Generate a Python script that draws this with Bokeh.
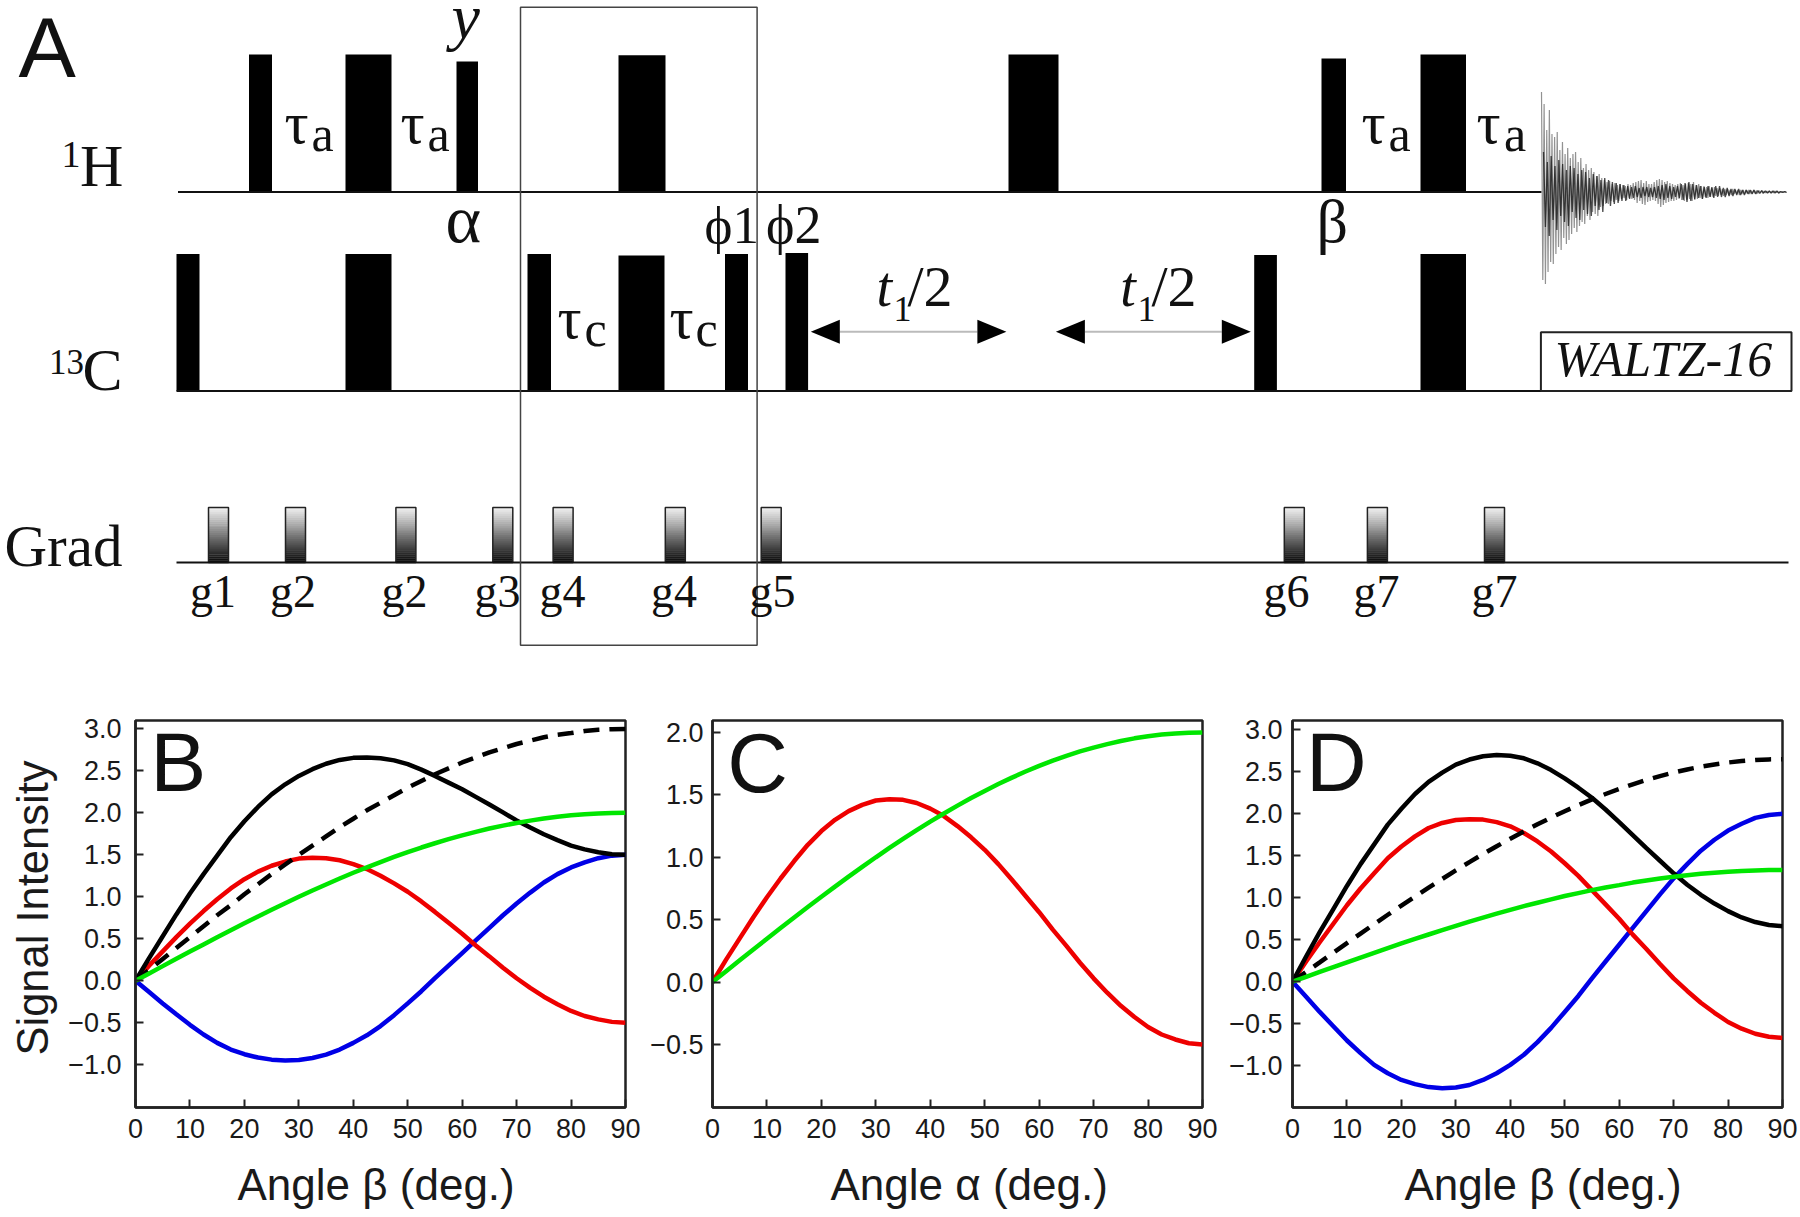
from bokeh.plotting import figure
from bokeh.layouts import column, row
from bokeh.models import FixedTicker, Range1d, Title
from bokeh.core.properties import value
from bokeh.embed import file_html
from bokeh.resources import INLINE

# ---------- schematic (panel A) ----------
h_pulse_start = [248.5, 345, 456, 618, 1008, 1321, 1420]
h_pulse_end = [271.5, 391, 477.5, 665, 1058, 1345.5, 1465.5]
h_pulse_top = [54, 54, 61, 54.7, 54, 58, 54]
c_pulse_start = [176, 345, 527, 618, 724.5, 785, 1253.7, 1420]
c_pulse_end = [199, 391, 550.5, 664, 747.5, 807.6, 1276.4, 1465.5]
c_pulse_top = [253.4, 253.4, 253.4, 255, 253.4, 252.5, 254.6, 253.4]
grad_start = [208, 285, 395.4, 492.3, 552.6, 664.8, 760.7, 1283.8, 1366.9, 1484]
grad_labels = ["g1", "g2", "g2", "g3", "g4", "g4", "g5", "g6", "g7", "g7"]
grad_label_x = [189.5, 269.5, 381, 474, 539, 650.5, 749, 1263, 1353, 1471]
fid_signal = [
    100, -88, 88, -92, 62, -80, 82, -70, 58, -72, 55, -62, 60, -55,
    42, -58, 50, -46, 38, -52, 44, -48, 34, -42, 38, -36, 40, -40, 30, -34,
    34, -30, 24, -32, 28, -24, 22, -28, 24, -20, 20, -22, 16, -24, 18, -15,
    14, -14, 12, -12, 10, -12, 11, -9, 8, -10, 9, -8, 7, -9, 8, -7, 7, -6, 6, -8, 8, -6, 7, -7,
    9, -8, 10, -11, 11, -9, 12, -12, 9, -13, 11, -10, 8, -9, 8, -8,
    10, -9, 12, -12, 13, -15, 12, -13, 10, -11, 11, -10, 9, -9, 8, -9,
    7, -8, 8, -7, 9, -8, 7, -9, 8, -8, 9, -7, 8, -9, 10, -8, 7, -7, 8, -6, 6, -7, 6, -5,
    5, -6, 6, -5, 4, -5, 5, -4, 4, -4, 4, -3, 3, -4, 3, -3, 3, -3, 2, -3, 3, -2, 2, -2, 2, -3, 2, -2, 2, -2,
    2, -1.5, 2, -2, 1.5, -1.5, 2, -1.5, 1.5, -1.5, 1.5, -1, 1, -1.5, 1, -1, 1, -1, 1, -1, 1, -1, 1, -0.5, 0.5, -1, 0.5, -0.5, 0.5, -0.5, 0.5, -0.5,
]
fid_core = [
    40, -35, 30, -44, 36, -28, 26, -38, 32, -24, 28, -30, 22, -34, 26, -20, 24, -26, 18, -28, 22, -18, 20, -22, 14, -24,
    18, -14, 16, -18, 12, -20, 14, -11, 12, -14, 10, -12, 9, -11, 8, -9, 7, -9, 6, -7, 5, -6, 6, -5, 4, -6, 5, -4, 5, -5,
    4, -5, 5, -6, 6, -7, 7, -8, 8, -6, 6, -7, 5, -5, 6, -6, 8, -8, 9, -10, 10, -9, 8, -7, 7, -6, 6, -7, 5, -6, 6, -5, 5, -6,
    6, -5, 6, -5, 4, -5, 4, -4, 3, -4, 3, -3, 3, -3, 2, -3, 2, -2, 2, -2, 2, -2, 1.5, -1.5, 1.5, -1, 1, -1, 1, -1, 1, -1, 1, -1,
    0.5, -0.5, 0.5, -0.5,
]
t1_arrow_left = [810.3, 1055.4]
t1_arrow_right = [1005.9, 1250.3]

# ---------- curves (panels B, C, D), read every 2.5 degrees ----------
angle = [0, 2.5, 5, 7.5, 10, 12.5, 15, 17.5, 20, 22.5, 25, 27.5, 30, 32.5, 35, 37.5, 40, 42.5, 45,
         47.5, 50, 52.5, 55, 57.5, 60, 62.5, 65, 67.5, 70, 72.5, 75, 77.5, 80, 82.5, 85, 87.5, 90]
b_black = [0, .27, .53, .79, 1.04, 1.27, 1.49, 1.71, 1.90, 2.07, 2.22, 2.34, 2.44, 2.52, 2.585, 2.63, 2.655, 2.66, 2.65,
           2.625, 2.58, 2.515, 2.44, 2.36, 2.28, 2.19, 2.10, 2.005, 1.91, 1.825, 1.745, 1.675, 1.61, 1.565, 1.53, 1.507, 1.5]
b_dashed = [0, .13, .26, .39, .52, .65, .78, .90, 1.03, 1.15, 1.27, 1.385, 1.5, 1.61, 1.72, 1.83, 1.93, 2.03, 2.12,
            2.21, 2.30, 2.38, 2.46, 2.53, 2.60, 2.66, 2.72, 2.77, 2.82, 2.86, 2.90, 2.93, 2.95, 2.975, 2.99, 2.997, 3.0]
b_green = [0, .087, .174, .261, .347, .433, .518, .601, .684, .765, .845, .923, 1.0, 1.075, 1.147, 1.218, 1.286, 1.351, 1.414,
           1.475, 1.532, 1.587, 1.638, 1.687, 1.732, 1.774, 1.813, 1.848, 1.879, 1.907, 1.932, 1.953, 1.970, 1.983, 1.992, 1.998, 2.0]
b_red = [0, .18, .35, .52, .68, .83, .97, 1.10, 1.21, 1.30, 1.37, 1.42, 1.455, 1.465, 1.46, 1.435, 1.39, 1.33, 1.25,
         1.16, 1.06, .945, .82, .69, .56, .42, .29, .155, .03, -.085, -.19, -.28, -.36, -.42, -.46, -.49, -.5]
b_blue = [0, -.135, -.27, -.40, -.525, -.64, -.74, -.82, -.875, -.915, -.94, -.95, -.945, -.92, -.88, -.82, -.74, -.65, -.54,
          -.41, -.27, -.125, .03, .18, .33, .48, .63, .78, .92, 1.05, 1.17, 1.27, 1.35, 1.41, 1.46, 1.49, 1.5]
c_green = [0, .087, .174, .261, .347, .433, .518, .601, .684, .765, .845, .923, 1.0, 1.075, 1.147, 1.218, 1.286, 1.351, 1.414,
           1.475, 1.532, 1.587, 1.638, 1.687, 1.732, 1.774, 1.813, 1.848, 1.879, 1.907, 1.932, 1.953, 1.970, 1.983, 1.992, 1.998, 2.0]
c_red = [0, .18, .35, .52, .68, .83, .97, 1.10, 1.21, 1.30, 1.37, 1.42, 1.455, 1.465, 1.46, 1.435, 1.39, 1.33, 1.25,
         1.16, 1.06, .945, .82, .69, .56, .42, .29, .155, .03, -.085, -.19, -.28, -.36, -.42, -.46, -.49, -.5]
d_black = [0, .30, .59, .865, 1.14, 1.40, 1.635, 1.87, 2.06, 2.235, 2.38, 2.49, 2.585, 2.645, 2.685, 2.70, 2.69, 2.66, 2.60,
           2.52, 2.42, 2.31, 2.19, 2.05, 1.90, 1.745, 1.59, 1.44, 1.29, 1.155, 1.035, .93, .84, .765, .71, .675, .66]
d_dashed = [0, .115, .23, .346, .46, .573, .686, .797, .906, 1.014, 1.12, 1.223, 1.325, 1.424, 1.52, 1.613, 1.703, 1.79, 1.874,
            1.954, 2.03, 2.102, 2.171, 2.235, 2.295, 2.35, 2.402, 2.448, 2.49, 2.527, 2.56, 2.587, 2.61, 2.627, 2.64, 2.647, 2.65]
d_green = [0, .058, .116, .174, .231, .288, .344, .40, .455, .509, .562, .614, .665, .715, .763, .81, .855, .899, .94,
           .98, 1.02, 1.055, 1.09, 1.122, 1.15, 1.18, 1.205, 1.229, 1.25, 1.268, 1.285, 1.298, 1.31, 1.319, 1.325, 1.329, 1.33]
d_red = [0, .24, .47, .69, .91, 1.11, 1.29, 1.47, 1.61, 1.73, 1.83, 1.89, 1.925, 1.935, 1.93, 1.90, 1.85, 1.77, 1.67,
         1.55, 1.41, 1.26, 1.09, .92, .75, .56, .39, .21, .04, -.11, -.25, -.37, -.48, -.56, -.62, -.655, -.67]
d_blue = [0, -.18, -.36, -.53, -.70, -.85, -.99, -1.09, -1.17, -1.22, -1.255, -1.27, -1.26, -1.23, -1.17, -1.09, -.99, -.87, -.72,
          -.55, -.36, -.17, .04, .24, .44, .64, .84, 1.04, 1.23, 1.40, 1.56, 1.69, 1.80, 1.88, 1.95, 1.985, 2.0]
x_ticks = [0, 10, 20, 30, 40, 50, 60, 70, 80, 90]
yb_ticks = [-1.0, -0.5, 0.0, 0.5, 1.0, 1.5, 2.0, 2.5, 3.0]
yc_ticks = [-0.5, 0.0, 0.5, 1.0, 1.5, 2.0]

SERIF = "Liberation Serif"
SANS = "Liberation Sans"
H_BASE, C_BASE, G_BASE = 191.5, 390.6, 561.9
G_TOP, G_W = 507, 20
BASE_SHIFT = 0.37  # the page draws "alphabetic" text this fraction of its size low

top = figure(width=1800, height=700, x_range=Range1d(0, 1800), y_range=Range1d(700, 0),
             toolbar_location=None, output_backend="svg", min_border=0)
top.axis.visible = False
top.grid.visible = False
top.outline_line_color = None


def txt(x, y, s, size, font=SERIF, style="normal", color="#111111"):
    top.text(x=[x], y=[y - BASE_SHIFT * size], text=[s], text_font=value(font), text_font_size=value(f"{size}px"),
             text_font_style=style, text_color=color, text_baseline="alphabetic", text_align="left")


top.quad(left=h_pulse_start, right=h_pulse_end, top=h_pulse_top, bottom=[H_BASE] * len(h_pulse_top),
         fill_color="black", line_color=None)
top.quad(left=c_pulse_start, right=c_pulse_end, top=c_pulse_top, bottom=[C_BASE] * len(c_pulse_top),
         fill_color="black", line_color=None)
STEPS = 28
for g in grad_start:
    for i in range(STEPS):
        f = i / (STEPS - 1)
        lev = int(238 * (1 - f) + 10 * f)
        col = f"#{lev:02x}{lev:02x}{lev:02x}"
        h = (G_BASE - G_TOP) / STEPS
        top.quad(left=[g], right=[g + G_W], top=[G_TOP + i * h], bottom=[G_TOP + (i + 1) * h + .3],
                 fill_color=col, line_color=None)
    top.quad(left=[g], right=[g + G_W], top=[G_TOP], bottom=[G_BASE], fill_color=None,
             line_color="#222222", line_width=1.5)

top.line([177.5, 1541], [H_BASE, H_BASE], line_color="#111111", line_width=2)
top.line([176, 1791], [C_BASE, C_BASE], line_color="#111111", line_width=2)
top.line([176, 1788], [G_BASE, G_BASE], line_color="#111111", line_width=2)

fid_x = [1541 + i * 245 / (len(fid_signal) - 1) for i in range(len(fid_signal))]
fid_y = [H_BASE - v for v in fid_signal]
top.line(fid_x, fid_y, line_color="#777777", line_width=1.2, line_alpha=0.8)
core_x = [1543 + i * 243 / (len(fid_core) - 1) for i in range(len(fid_core))]
core_y = [H_BASE - v for v in fid_core]
top.line(core_x, core_y, line_color="#111111", line_width=1.3, line_alpha=0.75)

top.quad(left=[1540.4], right=[1791], top=[331.7], bottom=[C_BASE], fill_color="white",
         line_color="#222222", line_width=2)
top.quad(left=[520], right=[756.6], top=[6.7], bottom=[644.8], fill_color=None,
         line_color="#444444", line_width=1.5)

ARROW_Y, HEAD_L, HEAD_H = 331.2, 29, 12
for a, b in zip(t1_arrow_left, t1_arrow_right):
    top.line([a + HEAD_L, b - HEAD_L], [ARROW_Y, ARROW_Y], line_color="#bbbbbb", line_width=2)
    top.patches(xs=[[a, a + HEAD_L, a + HEAD_L], [b, b - HEAD_L, b - HEAD_L]],
                ys=[[ARROW_Y, ARROW_Y - HEAD_H, ARROW_Y + HEAD_H]] * 2, fill_color="black", line_color=None)

txt(18, 78, "A", 86, SANS)
txt(451, 40, "y", 64, SERIF, "italic")
txt(61, 168, "1", 38); txt(79.5, 187.3, "H", 60)
txt(48.5, 374, "13", 35); txt(82, 392, "C", 60)
txt(4, 567, "Grad", 59)
for xs, s, base in [((284, 311), "a", 152), ((400, 427), "a", 152), ((1361, 1388), "a", 152), ((1476, 1503.5), "a", 152),
                    ((557, 584), "c", 347), ((669, 695), "c", 347)]:
    txt(xs[0], base - 7, "τ", 60)
    txt(xs[1], base, s, 50)
txt(445, 244, "α", 68)
txt(1316, 243, "β", 62)
txt(704, 244, "ϕ1", 53)
txt(765.5, 244, "ϕ2", 54)
for tx, sx, rx in [(876, 893, 907), (1119.7, 1137, 1151)]:
    txt(tx, 307, "t", 56, SERIF, "italic")
    txt(sx, 322, "1", 36)
    txt(rx, 307, "/2", 58)
txt(1554, 377, "WALTZ-16", 50, SERIF, "italic")
for x, s in zip(grad_label_x, grad_labels):
    txt(x, 608, s, 46)


# ---------- panels ----------
def panel(width, left, right, y0, y1, yticks, xlabel, xlabel_offset, letter, lx, ly, std):
    p = figure(width=width, height=547, x_range=Range1d(0, 90), y_range=Range1d(y0, y1),
               toolbar_location=None, output_backend="svg",
               min_border_left=left, min_border_right=right, min_border_top=20, min_border_bottom=140)
    p.grid.visible = False
    p.outline_line_color = "#222222"
    p.outline_line_width = 2.5
    p.xaxis.ticker = FixedTicker(ticks=x_ticks)
    p.yaxis.ticker = FixedTicker(ticks=yticks)
    p.yaxis.major_label_overrides = {t: (f"{t:.1f}".replace("-", "−")) for t in yticks}
    for ax in (p.xaxis, p.yaxis):
        ax.major_tick_in = 8
        ax.major_tick_out = 0
        ax.minor_tick_line_color = None
        ax.axis_line_color = "#222222"
        ax.axis_line_width = 2.5
        ax.major_tick_line_color = "#222222"
        ax.major_tick_line_width = 2
        ax.major_label_text_font = SANS
        ax.major_label_text_font_size = "27px"
        ax.major_label_text_color = "#1a1a1a"
    p.xaxis.major_label_standoff = 11
    p.yaxis.major_label_standoff = std
    p.add_layout(Title(text=xlabel, align="left", offset=xlabel_offset, vertical_align="top", standoff=38,
                       text_font=SANS, text_font_size="44px", text_font_style="normal", text_color="#1a1a1a"), "below")
    unit = (y1 - y0) / 386.7
    p.text(x=[lx], y=[ly + BASE_SHIFT * 84 * unit], text=[letter], text_font=value(SANS),
           text_font_size=value("84px"), text_color="#111111", text_baseline="alphabetic", text_align="left")
    return p


def curves(p, series):
    for ys, col, dash in series:
        p.line(angle, ys, line_color=col, line_width=4.5, line_dash=dash, line_cap="butt")


pb = panel(645, 135, 20, -1.51, 3.10, yb_ticks, "Angle β (deg.)", 102, "B", 2.7, 2.23, 14)
pb.add_layout(Title(text="Signal Intensity", align="left", offset=52, vertical_align="top", standoff=13,
                    text_font=SANS, text_font_size="43.5px", text_font_style="normal", text_color="#1a1a1a"), "left")
curves(pb, [(b_blue, "#0000e6", "solid"), (b_red, "#ee0000", "solid"), (b_black, "black", "solid"),
            (b_dashed, "black", "16 10"), (b_green, "#00e600", "solid")])
pc = panel(577, 67, 20, -1.005, 2.096, yc_ticks, "Angle α (deg.)", 118, "C", 2.7, 1.51, 9)
curves(pc, [(c_red, "#ee0000", "solid"), (c_green, "#00e600", "solid")])
pd = panel(578, 70, 18, -1.498, 3.11, yb_ticks, "Angle β (deg.)", 112, "D", 2.5, 2.25, 10)
curves(pd, [(d_blue, "#0000e6", "solid"), (d_red, "#ee0000", "solid"), (d_black, "black", "solid"),
            (d_dashed, "black", "16 10"), (d_green, "#00e600", "solid")])

layout = column(top, row(pb, pc, pd, spacing=0), spacing=0, height=1217, width=1800,
                styles={"overflow": "hidden"})
open("out.html", "w").write(file_html(layout, INLINE))
